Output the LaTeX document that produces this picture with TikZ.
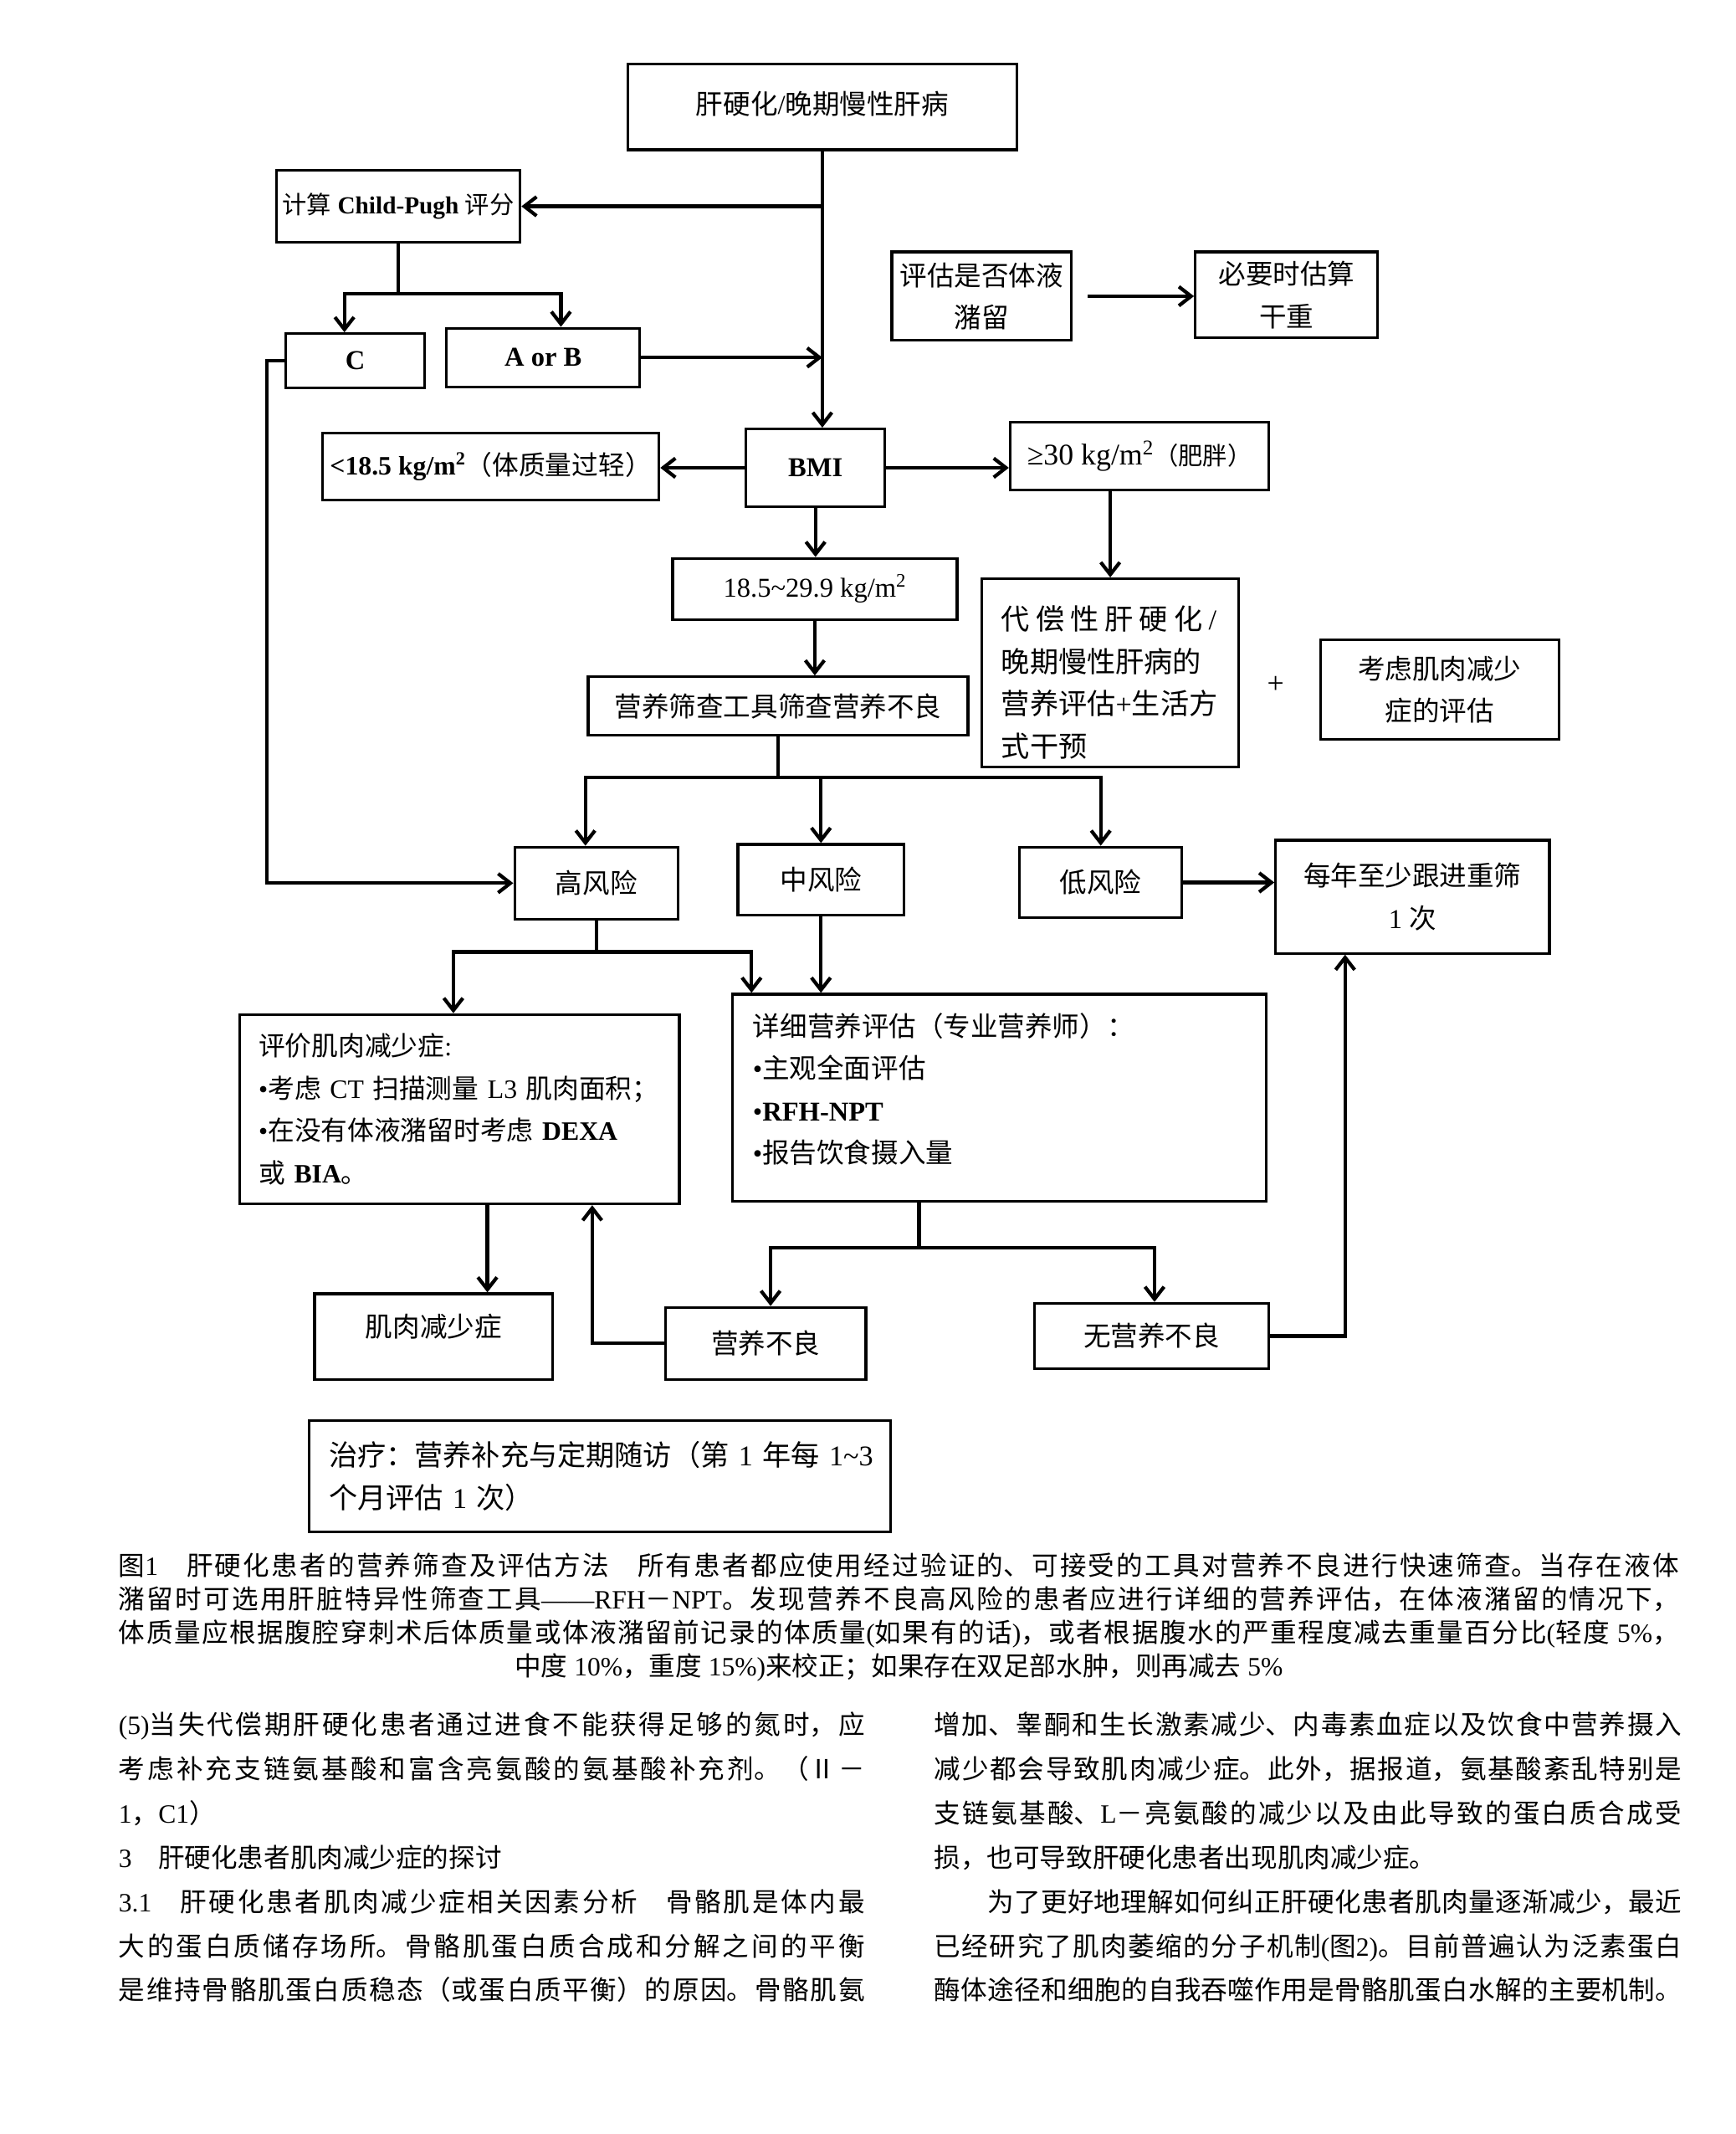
\documentclass[tikz,border=0pt]{standalone}
\usepackage{fontspec}
\setmainfont{Liberation Serif}
\newfontfamily\cjkfont{Noto Sans CJK SC}
\newfontfamily\latfont{Liberation Serif}
\usetikzlibrary{arrows.meta,calc}
\XeTeXinterchartokenstate=1
\XeTeXlinebreaklocale "zh"
\XeTeXlinebreakskip=0pt plus 3pt
\newXeTeXintercharclass\cjkcls
\newcount\cjkcnt
\newcommand\setcjkrange[2]{\cjkcnt=#1\relax
  \loop\XeTeXcharclass\cjkcnt=\cjkcls\relax
  \ifnum\cjkcnt<#2\advance\cjkcnt by 1\repeat}
\setcjkrange{"4E00}{"9FFF}
\setcjkrange{"3000}{"303F}
\setcjkrange{"FF00}{"FFEF}
\setcjkrange{"2160}{"217F}
\XeTeXcharclass"2014=0 \XeTeXcharclass"2022=0 \XeTeXcharclass"2265=0
\XeTeXinterchartoks 0 \cjkcls = {\cjkfont}
\XeTeXinterchartoks 4095 \cjkcls = {\cjkfont}
\XeTeXinterchartoks \cjkcls 0 = {\latfont}
\XeTeXinterchartoks \cjkcls 4095 = {\latfont}
\XeTeXinterchartoks 0 1 = {\cjkfont}
\XeTeXinterchartoks 0 2 = {\cjkfont}
\XeTeXinterchartoks 0 3 = {\cjkfont}
\XeTeXinterchartoks 4095 1 = {\cjkfont}
\XeTeXinterchartoks 4095 2 = {\cjkfont}
\XeTeXinterchartoks 4095 3 = {\cjkfont}
\XeTeXinterchartoks 1 0 = {\latfont}
\XeTeXinterchartoks 2 0 = {\latfont}
\XeTeXinterchartoks 3 0 = {\latfont}
\XeTeXinterchartoks 1 4095 = {\latfont}
\XeTeXinterchartoks 2 4095 = {\latfont}
\XeTeXinterchartoks 3 4095 = {\latfont}
\newcommand\fsz[2]{\fontsize{#1}{#2}\selectfont}
\newcommand\bodyset{\parindent=0pt\parskip=0pt}
\begin{document}
\begin{tikzpicture}[x=1pt,y=-1pt,
    box/.style={draw,line width=2pt,inner sep=0pt,align=center,font=\fsz{20}{31}},
    link/.style={line width=2.6pt},
    arr/.style={line width=2.6pt,-{Straight Barb[length=9pt,width=14pt]}},
    txt/.style={inner sep=0pt,anchor=north west,align=justify,font=\fsz{19.4}{32.5}\bodyset}]
\useasboundingbox[fill=white] (0,0) rectangle (1275,1567);
\node[box,minimum width=286pt,minimum height=63pt] (top) at (604,78.5) {肝硬化/晚期慢性肝病\rule[-6pt]{0pt}{0pt}};
\node[box,minimum width=179pt,minimum height=53pt,font=\fsz{18}{22}] (cp) at (292.5,151.5) {计算 \textbf{Child-Pugh} 评分};
\node[box,minimum width=102pt,minimum height=40pt] (c) at (261,265) {\textbf{C}};
\node[box,minimum width=142pt,minimum height=43pt] (ab) at (399,262.5) {\textbf{A or B}};
\node[box,minimum width=132pt,minimum height=65pt] (fluid) at (721,217.5) {评估是否体液\\潴留};
\node[box,minimum width=134pt,minimum height=63pt] (dry) at (945,216.5) {必要时估算\\干重};
\node[box,minimum width=102pt,minimum height=57pt] (bmi) at (599,343.5) {\textbf{BMI}};
\node[box,minimum width=247pt,minimum height=49pt,font=\fsz{19.5}{24}] (under) at (360.5,342.5) {\textbf{<18.5 kg/m\textsuperscript{2}}（体质量过轻）};
\node[box,minimum width=190pt,minimum height=50pt,font=\fsz{22}{24}] (obese) at (837,335) {≥30 kg/m\textsuperscript{2}{\fsz{18}{20}（肥胖）}};
\node[box,minimum width=209pt,minimum height=45pt,font=\fsz{20}{22}] (normal) at (598.5,432.5) {18.5\textasciitilde 29.9 kg/m\textsuperscript{2}};
\node[box,minimum width=279pt,minimum height=43pt] (screen) at (571.5,518.5) {营养筛查工具筛查营养不良};
\node[box,minimum width=189pt,minimum height=138pt,text width=160pt,align=left,font=\fsz{21}{31}] (comp) at (815.5,494) {\rule{0pt}{32pt}\makebox[158pt][s]{代\hfil 偿\hfil 性\hfil 肝\hfil 硬\hfil 化\hfil /}\\晚期慢性肝病的\\营养评估+生活方\\式干预};
\node[font=\fsz{22}{24},inner sep=0pt] (plus) at (937,503) {+};
\node[box,minimum width=175pt,minimum height=73pt] (sarc) at (1057.5,506.5) {考虑肌肉减少\\症的评估};
\node[box,minimum width=120pt,minimum height=53pt] (high) at (438,648.5) {高风险};
\node[box,minimum width=122pt,minimum height=52pt] (medium) at (603,646) {中风险};
\node[box,minimum width=119pt,minimum height=52pt] (lowrisk) at (808.5,648) {低风险};
\node[box,minimum width=201pt,minimum height=83pt] (yearly) at (1037.5,658.5) {每年至少跟进重筛\\1 次};
\node[box,minimum width=323pt,minimum height=139pt,text width=295pt,align=left,font=\fsz{19.5}{31}] (evalsar) at (337.5,814.5) {评价肌肉减少症:\\•考虑 CT 扫描测量 L3 肌肉面积；\\•在没有体液潴留时考虑 \textbf{DEXA}\\或 \textbf{BIA}。};
\node[box,minimum width=392pt,minimum height=152pt,text width=362pt,align=left] (detail) at (734,806) {详细营养评估（专业营养师）：\\•主观全面评估\\•\textbf{RFH-NPT}\\•报告饮食摄入量\rule[-14pt]{0pt}{0pt}};
\node[box,minimum width=175pt,minimum height=63pt] (sarco) at (318.5,981.5) {肌肉减少症\rule[-16pt]{0pt}{0pt}};
\node[box,minimum width=147pt,minimum height=53pt] (malnut) at (562.5,986.5) {营养不良};
\node[box,minimum width=172pt,minimum height=48pt] (nomal) at (846,981) {无营养不良};
\node[box,minimum width=427pt,minimum height=82pt,text width=398pt,align=left,font=\fsz{21}{31}] (treat) at (440.5,1084) {\makebox[398pt][l]{治疗：营养补充与定期随访（第 1 年每 1\textasciitilde 3}\\\makebox[398pt][l]{个月评估 1 次）}};
\draw[arr] (top.south) -- (top.south |- bmi.north);
\draw[arr] (top.south |- cp.east) -- (cp.east);
\draw[link] (cp.south) -- ++(0,36.5) coordinate (cpj);
\draw[arr] (cpj) -| ($(c.north)+(-8,0)$);
\draw[arr] (cpj) -| ($(ab.north)+(13,0)$);
\draw[arr] (ab.east) -- (ab.east -| top.south);
\draw[arr] (c.west) -- ++(-13,0) |- (high.west);
\draw[arr] ($(fluid.east)+(11,0)$) -- (fluid.east -| dry.west);
\draw[arr] (bmi.west) -- (bmi.west -| under.east);
\draw[arr] (bmi.east) -- (bmi.east -| obese.west);
\draw[arr] (comp.north |- obese.south) -- (comp.north);
\draw[arr] (bmi.south) -- (bmi.south |- normal.north);
\draw[arr] (normal.south) -- (normal.south |- screen.north);
\draw[link] (screen.south) -- ++(0,30) coordinate (scrj);
\draw[arr] (scrj) -| ($(high.north)+(-8,0)$);
\draw[arr] (scrj) -| (medium.north);
\draw[arr] (scrj) -| (lowrisk.north);
\draw[arr] (lowrisk.east) -- (lowrisk.east -| yearly.west);
\draw[link] (high.south) -- ++(0,23) coordinate (hrj);
\draw[arr] (hrj) -| ($(evalsar.north)+(-4.5,0)$);
\draw[arr] (hrj) -| ($(detail.north west)+(15,0)$);
\draw[arr] (medium.south) -- (medium.south |- detail.north);
\draw[arr] ($(evalsar.south)+(20.5,0)$) -- ($(sarco.north)+(39.5,0)$);
\draw[arr] (malnut.west) -| ($(evalsar.south)+(97.5,0)$);
\draw[link] ($(detail.south)+(-59,0)$) -- ++(0,33) coordinate (detj);
\draw[arr] (detj) -| ($(malnut.north)+(3.5,0)$);
\draw[arr] (detj) -| ($(nomal.north)+(2,0)$);
\draw[arr] (nomal.east) -| ($(yearly.south)+(-49.5,0)$);
\node[txt,text width=1146pt,font=\fsz{19.4}{24.7}\bodyset] (caption) at (87,1140) {{\parfillskip=0pt 图1　肝硬化患者的营养筛查及评估方法　所有患者都应使用经过验证的、可接受的工具对营养不良进行快速筛查。当存在液体\linebreak 潴留时可选用肝脏特异性筛查工具——RFH－NPT。发现营养不良高风险的患者应进行详细的营养评估，在体液潴留的情况下，\linebreak 体质量应根据腹腔穿刺术后体质量或体液潴留前记录的体质量(如果有的话)，或者根据腹水的严重程度减去重量百分比(轻度 5\%，\par}{\centering 中度 10\%，重度 15\%)来校正；如果存在双足部水肿，则再减去 5\%\par}};
\node[txt,text width=548pt] (leftcol) at (87,1257) {(5)当失代偿期肝硬化患者通过进食不能获得足够的氮时，应\linebreak 考虑补充支链氨基酸和富含亮氨酸的氨基酸补充剂。（Ⅱ－\linebreak 1，C1）\par 3　肝硬化患者肌肉减少症的探讨\par {\parfillskip=0pt 3.1　肝硬化患者肌肉减少症相关因素分析　骨骼肌是体内最\linebreak 大的蛋白质储存场所。骨骼肌蛋白质合成和分解之间的平衡\linebreak 是维持骨骼肌蛋白质稳态（或蛋白质平衡）的原因。骨骼肌氨\par}};
\node[txt,text width=549pt] (rightcol) at (686,1257) {增加、睾酮和生长激素减少、内毒素血症以及饮食中营养摄入\linebreak 减少都会导致肌肉减少症。此外，据报道，氨基酸紊乱特别是\linebreak 支链氨基酸、L－亮氨酸的减少以及由此导致的蛋白质合成受\linebreak 损，也可导致肝硬化患者出现肌肉减少症。\par {\parfillskip=0pt 　　为了更好地理解如何纠正肝硬化患者肌肉量逐渐减少，最近\linebreak 已经研究了肌肉萎缩的分子机制(图2)。目前普遍认为泛素蛋白\linebreak 酶体途径和细胞的自我吞噬作用是骨骼肌蛋白水解的主要机制。\par}};
\end{tikzpicture}
\end{document}
